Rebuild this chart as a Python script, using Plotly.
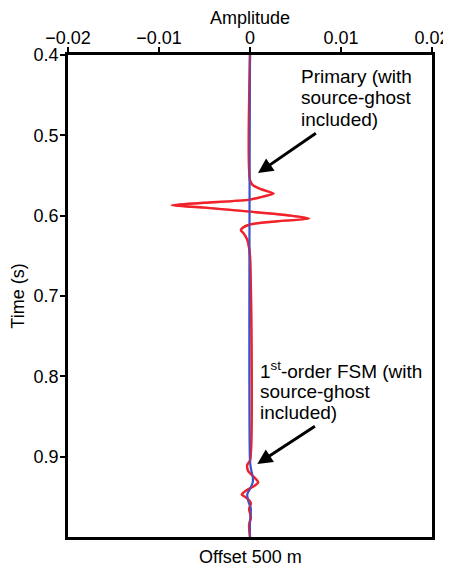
import plotly.graph_objects as go

# =============================================================================
# DATA
# =============================================================================

# red trace: primary + 1st-order FSM
red_time = [0.400, 0.556, 0.562, 0.567, 0.5725, 0.576, 0.580, 0.584, 0.587, 0.590,
            0.595, 0.600, 0.6035, 0.607, 0.611, 0.615, 0.618, 0.622, 0.630, 0.640,
            0.650, 0.905, 0.910, 0.918, 0.925, 0.932, 0.937, 0.942, 0.947, 0.952,
            0.958, 0.965, 0.975, 0.985, 1.000]
red_amp = [0.0, 0.0, 0.0003, 0.0012, 0.0026, 0.0015, 0.0, -0.005, -0.0086, -0.005,
           0.0, 0.0045, 0.0065, 0.003, 0.0, -0.0008, -0.001, -0.0007, -0.0003, -0.0001,
           0.0, 0.0, -0.0003, -0.0002, 0.0004, 0.0009, 0.0004, -0.0004, -0.0009, -0.0003,
           0.0001, -0.0001, 0.0001, -0.0001, 0.0]

# blue trace
blue_time = [0.400, 0.905, 0.915, 0.925, 0.932, 0.940, 0.947, 0.955, 0.965, 0.980, 1.000]
blue_amp = [0.0, 0.0, 0.0001, 0.0003, 0.0003, 0.0, -0.0003, -0.0002, 0.0001, 0.0, 0.0]

x_ticks = [-0.02, -0.01, 0, 0.01, 0.02]
x_labels = ["\u22120.02", "\u22120.01", "0", "0.01", "0.02"]
y_ticks = [0.4, 0.5, 0.6, 0.7, 0.8, 0.9]

primary_lines = ["Primary (with", "source-ghost", "included)"]
fsm_lines = ["1<sup>st</sup>-order FSM (with", "source-ghost", "included)"]

COLOR_RED = "#F0222A"
COLOR_BLUE = "#3A52CC"
FONT = "Liberation Sans, Arial, sans-serif"


def _text_block(lines, x, y_bottom, dy=0.026):
    # one annotation per line (bottom-anchored), so the line spacing matches
    return [
        dict(x=x, y=y_bottom + i * dy, xref="x", yref="y", xanchor="left", yanchor="bottom",
             align="left", showarrow=False, text=t, font=dict(size=19, color="black"))
        for i, t in enumerate(lines)
    ]


def _arrow(x, y, ax, ay):
    return dict(x=x, y=y, ax=ax, ay=ay, xref="x", yref="y", axref="x", ayref="y",
                showarrow=True, arrowhead=2, arrowsize=1.0, arrowwidth=3,
                arrowcolor="black", text="")


# =============================================================================
# FIGURE
# =============================================================================

fig = go.Figure()

fig.add_trace(go.Scatter(
    x=red_amp, y=red_time, mode="lines",
    line=dict(color=COLOR_RED, width=2.4, shape="spline", smoothing=0.7),
    showlegend=False,
))
fig.add_trace(go.Scatter(
    x=blue_amp, y=blue_time, mode="lines",
    line=dict(color=COLOR_BLUE, width=2.2, shape="spline", smoothing=0.7),
    showlegend=False,
))
# faint red on top: where both traces sit on zero the line reads purple
fig.add_trace(go.Scatter(
    x=red_amp, y=red_time, mode="lines",
    line=dict(color=COLOR_RED, width=2.2, shape="spline", smoothing=0.7),
    opacity=0.4, showlegend=False, hoverinfo="skip",
))

annotations = []
annotations.append(_arrow(0.00088, 0.547, 0.0074, 0.496))
annotations.append(_arrow(0.0008, 0.909, 0.0073, 0.861))
annotations += _text_block(primary_lines, 0.0054, 0.442, dy=0.0267)
annotations += _text_block(fsm_lines, 0.0009, 0.810, dy=0.0250)
annotations.append(dict(x=0.5, y=-0.016, xref="paper", yref="paper", xanchor="center",
                        yanchor="top", showarrow=False, text="Offset 500 m",
                        font=dict(size=18, color="black")))

# page body has an 8px margin, so the div is sized/offset to land the
# plot area where the original has it in the 451x568 window
fig.update_layout(
    width=443,
    height=560,
    margin=dict(l=60, r=19, t=47, b=31, autoexpand=False),
    paper_bgcolor="white",
    plot_bgcolor="white",
    font=dict(family=FONT, size=18, color="black"),
    annotations=annotations,
)

fig.update_xaxes(
    side="top",
    range=[-0.02, 0.02],
    tickvals=x_ticks,
    ticktext=x_labels,
    ticks="outside", ticklen=5, tickwidth=2, tickcolor="black",
    ticklabelstandoff=-4,
    showline=True, linewidth=2.5, linecolor="black", mirror=True,
    showgrid=False, zeroline=False, automargin=False,
    title=dict(text="Amplitude", standoff=2, font=dict(size=18)),
    tickfont=dict(size=18),
)
fig.update_yaxes(
    range=[1.0, 0.4],
    tickvals=y_ticks,
    ticktext=[str(v) for v in y_ticks],
    ticks="outside", ticklen=5, tickwidth=2, tickcolor="black",
    ticklabelstandoff=-2,
    showline=True, linewidth=2.5, linecolor="black", mirror=True,
    showgrid=False, zeroline=False, automargin=False,
    title=dict(text="Time (s)", standoff=5, font=dict(size=18)),
    tickfont=dict(size=18),
)

fig.write_html("out.html")
